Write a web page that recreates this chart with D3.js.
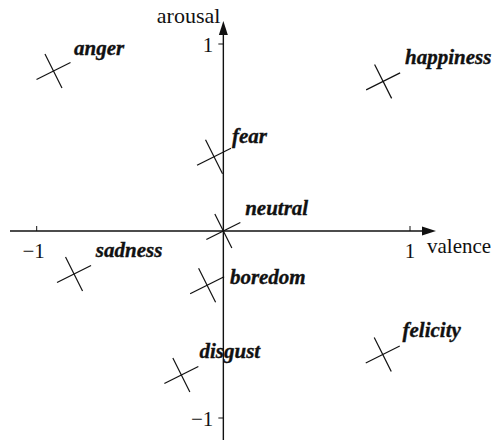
<!DOCTYPE html>
<html>
<head>
<meta charset="utf-8">
<script src="https://cdn.jsdelivr.net/npm/d3@7"></script>
<style>
  body { margin: 0; background: #fff; }
  text { font-family: "Liberation Serif", "Times New Roman", serif; fill: #111; }
  .lab { font-weight: bold; font-style: italic; font-size: 21px; stroke: #111; stroke-width: 0.35px; }
</style>
</head>
<body>
<div id="chart"></div>
<script>
// --- données ---
const emotions = ["anger", "happiness", "fear", "neutral", "sadness", "boredom", "disgust", "felicity"];
const valence  = [-0.91, 0.856, -0.05, 0.0, -0.80, -0.087, -0.225, 0.854];
const arousal  = [0.856, 0.80, 0.397, 0.0, -0.23, -0.29, -0.77, -0.66];
// position des étiquettes (en unités du graphe)
const labValence = [-0.80, 0.973, 0.046, 0.117, -0.683, 0.035, -0.128, 0.96];
const labArousal = [0.942, 0.892, 0.471, 0.085, -0.139, -0.283, -0.678, -0.567];
const ticks = [-1, 1];

const largeur = 495, hauteur = 440;

const svg = d3.select("#chart").append("svg")
  .attr("width", largeur)
  .attr("height", hauteur);

const x = d3.scaleLinear().domain([-1, 1]).range([36.7, 410]);
const y = d3.scaleLinear().domain([-1, 1]).range([418, 44]);

const x0 = x(0), y0 = y(0);

// axes
svg.append("line")
  .attr("x1", 10).attr("x2", 424)
  .attr("y1", y0).attr("y2", y0)
  .attr("stroke", "#111").attr("stroke-width", 1.4);
svg.append("path")
  .attr("d", `M436,${y0} L422,${y0 - 4.5} L422,${y0 + 4.5} Z`)
  .attr("fill", "#111");

svg.append("line")
  .attr("x1", x0).attr("x2", x0)
  .attr("y1", 440).attr("y2", 34)
  .attr("stroke", "#111").attr("stroke-width", 1.4);
svg.append("path")
  .attr("d", `M${x0},21 L${x0 - 4.5},35 L${x0 + 4.5},35 Z`)
  .attr("fill", "#111");

// graduations
svg.selectAll(".tx").data(ticks).join("line")
  .attr("x1", d => x(d)).attr("x2", d => x(d))
  .attr("y1", y0 - 5).attr("y2", y0)
  .attr("stroke", "#111").attr("stroke-width", 1);
svg.selectAll(".txl").data(ticks).join("text")
  .attr("x", d => x(d) - (d < 0 ? 3 : 0))
  .attr("y", y0 + 27)
  .attr("text-anchor", "middle")
  .style("font-size", "21px")
  .text(d => d < 0 ? "\u22121" : "1");

svg.selectAll(".ty").data(ticks).join("line")
  .attr("x1", x0 - 5).attr("x2", x0)
  .attr("y1", d => y(d)).attr("y2", d => y(d))
  .attr("stroke", "#111").attr("stroke-width", 1);
svg.selectAll(".tyl").data(ticks).join("text")
  .attr("x", x0 - 10)
  .attr("y", d => y(d) + 8)
  .attr("text-anchor", "end")
  .style("font-size", "21px")
  .text(d => d < 0 ? "\u22121" : "1");

svg.append("text")
  .attr("x", 427).attr("y", y0 + 22)
  .style("font-size", "21px")
  .text("valence");
svg.append("text")
  .attr("x", x0 - 3).attr("y", 23)
  .attr("text-anchor", "end")
  .style("font-size", "22px")
  .text("arousal");

// croix
const idx = d3.range(emotions.length);
const croix = svg.append("g").selectAll("g").data(idx).join("g")
  .attr("transform", i => `translate(${x(valence[i])},${y(arousal[i])}) rotate(-26.6)`);
croix.append("line").attr("x1", -19).attr("x2", 19).attr("y1", 0).attr("y2", 0)
  .attr("stroke", "#111").attr("stroke-width", 1.2);
croix.append("line").attr("x1", 0).attr("x2", 0).attr("y1", -19).attr("y2", 19)
  .attr("stroke", "#111").attr("stroke-width", 1.2);

// étiquettes
svg.append("g").selectAll("text").data(idx).join("text")
  .attr("class", "lab")
  .attr("x", i => x(labValence[i]))
  .attr("y", i => y(labArousal[i]))
  .text(i => emotions[i]);
</script>
</body>
</html>
